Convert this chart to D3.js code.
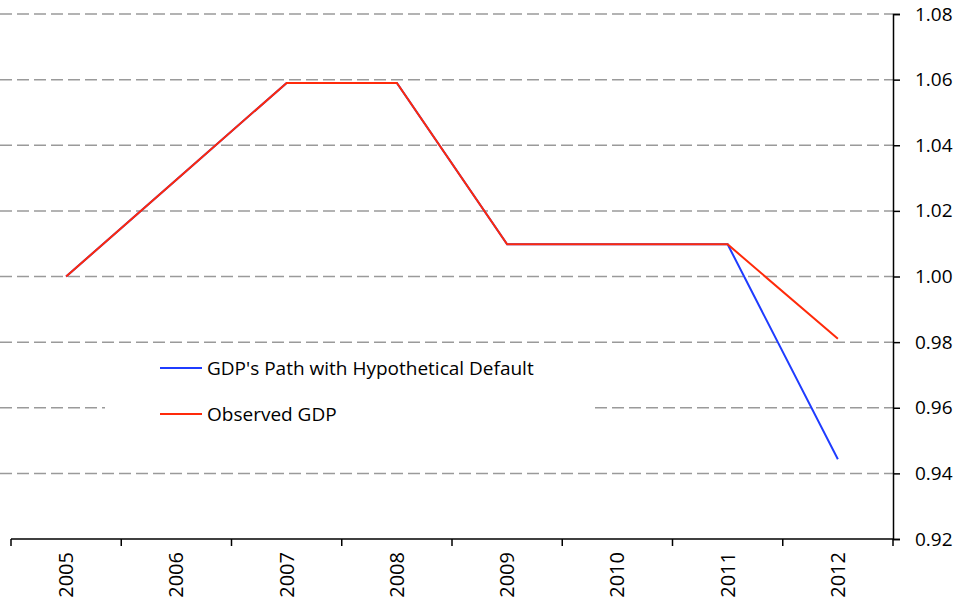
<!DOCTYPE html>
<html>
<head>
<meta charset="utf-8">
<script src="https://cdn.jsdelivr.net/npm/d3@7"></script>
<style>
  body { margin: 0; background: #fff; }
  text { font-family: "Open Sans", Lato, sans-serif; fill: #000; }
</style>
</head>
<body>
<svg width="956" height="599"></svg>
<script>
var years = ["2005", "2006", "2007", "2008", "2009", "2010", "2011", "2012"];
var defaultPath = [1.00, 1.0295, 1.059, 1.059, 1.0098, 1.0098, 1.0098, 0.9443];
var observedGdp = [1.00, 1.0295, 1.059, 1.059, 1.0098, 1.0098, 1.0098, 0.981];
var yTicks = [0.92, 0.94, 0.96, 0.98, 1.00, 1.02, 1.04, 1.06, 1.08];
var seriesNames = ["GDP's Path with Hypothetical Default", "Observed GDP"];
var seriesColors = ["#1f3cff", "#ff2a0a"];

var svg = d3.select("svg");

var x = d3.scaleBand()
    .domain(years)
    .range([11, 893]);

var y = d3.scaleLinear()
    .domain([0.92, 1.08])
    .range([539, 14]);

// dashed gridlines
svg.append("g")
    .selectAll("line")
    .data(yTicks.slice(1))
  .enter().append("line")
    .attr("x1", 0)
    .attr("x2", 893)
    .attr("y1", function(d) { return y(d); })
    .attr("y2", function(d) { return y(d); })
    .attr("stroke", "#9a9a9a")
    .attr("stroke-width", 1.5)
    .attr("stroke-dasharray", "12,5");

var line = d3.line()
    .x(function(d, i) { return x(years[i]) + x.bandwidth() / 2; })
    .y(function(d) { return y(d); });

svg.append("path")
    .datum(defaultPath)
    .attr("d", line)
    .attr("fill", "none")
    .attr("stroke", seriesColors[0])
    .attr("stroke-width", 2);

svg.append("path")
    .datum(observedGdp)
    .attr("d", line)
    .attr("fill", "none")
    .attr("stroke", seriesColors[1])
    .attr("stroke-width", 2);

// right axis
var yAxis = svg.append("g")
    .attr("transform", "translate(893,0)")
    .call(d3.axisRight(y).tickValues(yTicks).tickFormat(d3.format(".2f")).tickSize(7).tickPadding(15));
yAxis.select(".domain").attr("stroke", "#000").attr("stroke-width", 1.5);
yAxis.selectAll(".tick line").attr("stroke", "#000").attr("stroke-width", 1.5);
yAxis.selectAll(".tick text")
    .style("font-family", "'Open Sans', Lato, sans-serif")
    .style("font-size", "19px");

// bottom axis
var xTickPos = years.map(function(d) { return x(d); }).concat([893]);
var xAxis = svg.append("g").attr("transform", "translate(0,539)");
xAxis.append("line")
    .attr("x1", 11).attr("x2", 893)
    .attr("stroke", "#000").attr("stroke-width", 1.5);
xAxis.selectAll(".xt")
    .data(xTickPos)
  .enter().append("line")
    .attr("x1", function(d) { return d; })
    .attr("x2", function(d) { return d; })
    .attr("y1", 0).attr("y2", 7)
    .attr("stroke", "#000").attr("stroke-width", 1.5);
xAxis.selectAll("text")
    .data(years)
  .enter().append("text")
    .attr("transform", function(d) {
      return "translate(" + (x(d) + x.bandwidth() / 2) + ",13) rotate(-90)";
    })
    .attr("text-anchor", "end")
    .attr("dy", "0.35em")
    .style("font-size", "20px")
    .text(function(d) { return d; });

// legend
var legend = svg.append("g");
legend.append("rect")
    .attr("x", 105).attr("y", 350)
    .attr("width", 485).attr("height", 84)
    .attr("fill", "#fff");
var item = legend.selectAll(".item")
    .data(seriesNames)
  .enter().append("g")
    .attr("transform", function(d, i) { return "translate(160," + (368 + i * 46) + ")"; });
item.append("line")
    .attr("x1", 0).attr("x2", 42)
    .attr("stroke", function(d, i) { return seriesColors[i]; })
    .attr("stroke-width", 2);
item.append("text")
    .attr("x", 47)
    .attr("dy", "0.35em")
    .style("font-size", "19px")
    .text(function(d) { return d; });
</script>
</body>
</html>
